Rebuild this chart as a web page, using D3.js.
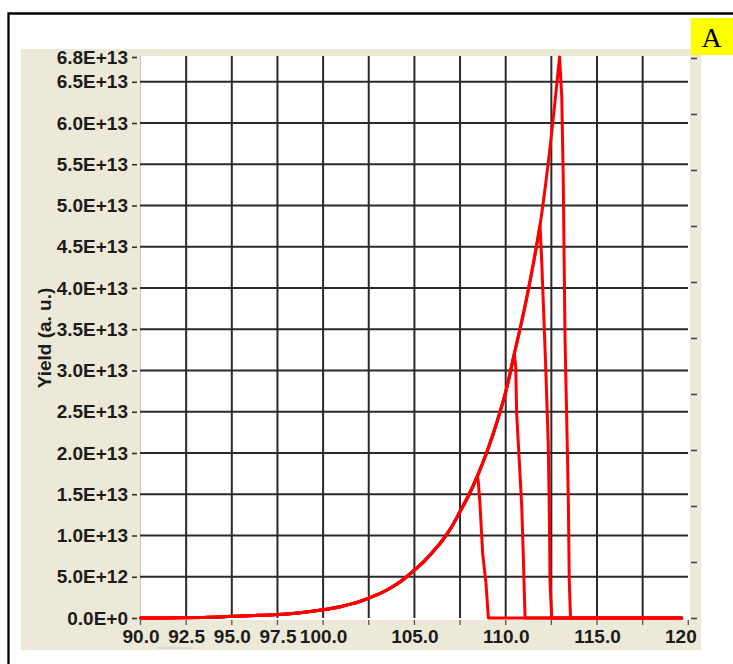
<!DOCTYPE html>
<html>
<head>
<meta charset="utf-8">
<script src="https://cdn.jsdelivr.net/npm/d3@7"></script>
<style>
  html, body { margin: 0; padding: 0; background: #ffffff; }
  svg { display: block; }
  .tick text { font-family: "Liberation Sans", Arial, sans-serif; font-weight: bold; font-size: 19px; fill: #1c1c1c; }
</style>
</head>
<body>
<svg id="chart" width="733" height="664"></svg>
<script>
// ---- Axis ticks and labels ----
const gridX = [90, 92.5, 95, 97.5, 100, 102.5, 105, 107.5, 110, 112.5, 115, 117.5, 120];
const labelX = [90, 92.5, 95, 97.5, 100, 105, 110, 115, 120];
const gridY = [0, 5e12, 1e13, 1.5e13, 2e13, 2.5e13, 3e13, 3.5e13, 4e13, 4.5e13, 5e13, 5.5e13, 6e13, 6.5e13, 6.8e13];
const labelY = ["0.0E+0", "5.0E+12", "1.0E+13", "1.5E+13", "2.0E+13", "2.5E+13", "3.0E+13",
                "3.5E+13", "4.0E+13", "4.5E+13", "5.0E+13", "5.5E+13", "6.0E+13", "6.5E+13", "6.8E+13"];
const rightTicks = [0, 1, 2, 3, 4, 5, 6, 7, 8, 9, 10];

// ---- Yield curve (shared rising edge) ----
const riseX = [93.75, 95.0, 96.25, 97.5, 98.75, 100.0, 100.5, 101.0, 101.5, 102.0, 102.5, 103.0,
               103.5, 104.0, 104.5, 105.0, 105.5, 106.0, 106.5, 107.0, 107.5, 108.0, 108.45,
               109.0, 109.5, 110.0, 110.47, 111.0, 111.33, 111.88, 112.4, 112.95];
const riseY = [1e11, 2e11, 3e11, 4.3e11, 6.5e11, 1.0e12, 1.18e12, 1.4e12, 1.68e12, 2.0e12, 2.4e12, 2.85e12,
               3.4e12, 4.05e12, 4.85e12, 5.8e12, 6.8e12, 8.0e12, 9.3e12, 1.09e13, 1.29e13, 1.5e13, 1.72e13,
               2.03e13, 2.36e13, 2.74e13, 3.2e13, 3.72e13, 4.08e13, 4.76e13, 5.65e13, 6.8e13];

// ---- Cut-off energies of the four runs and their falling edges ----
const apexX = [108.45, 110.47, 111.88, 112.95];
const drop1X = [108.5, 108.59, 108.74, 108.92, 109.05];
const drop1Y = [1.65e13, 1.39e13, 7.8e12, 4.2e12, 0];
const drop2X = [110.55, 110.6, 110.74, 110.88, 110.96, 111.06];
const drop2Y = [3.05e13, 2.48e13, 1.92e13, 1.35e13, 7.8e12, 0];
const drop3X = [111.97, 112.06, 112.2, 112.33, 112.39, 112.43, 112.52];
const drop3Y = [4.34e13, 3.82e13, 2.99e13, 2.12e13, 1.27e13, 4.2e12, 0];
const drop4X = [113.07, 113.15, 113.25, 113.34, 113.43, 113.48, 113.55];
const drop4Y = [6.32e13, 5.35e13, 3.37e13, 2.44e13, 1.43e13, 4.6e12, 0];
const baseX = [90, 119.64];   // zero-yield baseline span

const svg = d3.select("#chart");

// outer frame
svg.append("path")
  .attr("d", "M8.5,664 V13.5 H733")
  .attr("fill", "none").attr("stroke", "#000").attr("stroke-width", 2.3);

// beige chart panel
svg.append("rect").attr("x", 21).attr("y", 49).attr("width", 680).attr("height", 601).attr("fill", "#ECE9D8");

// plot area
svg.append("rect").attr("x", 140).attr("y", 56).attr("width", 550).attr("height", 564).attr("fill", "#ffffff");
svg.append("line").attr("x1", 140.5).attr("x2", 140.5).attr("y1", 56).attr("y2", 620)
  .attr("stroke", "#c4c4c4").attr("stroke-width", 1);

const x = d3.scaleLinear().domain([90, 120]).range([140.5, 688.3]);
const y = d3.scaleLinear().domain([0, 6.8e13]).range([618, 57]);
const yR = d3.scaleLinear().domain([0, 10]).range([618, 58]);

// grid
const grid = svg.append("g").attr("stroke", "#2a2a2a").attr("stroke-width", 2);
grid.selectAll("line.v").data(gridX.filter(d => d > 90 && d < 120)).join("line")
  .attr("class", "v")
  .attr("x1", d => x(d)).attr("x2", d => x(d))
  .attr("y1", 56).attr("y2", 618);
grid.selectAll("line.h").data(gridY.filter(d => d > 0 && d < 6.8e13)).join("line")
  .attr("class", "h")
  .attr("x1", 140).attr("x2", 688)
  .attr("y1", d => y(d)).attr("y2", d => y(d));

// left axis
const yAxis = svg.append("g").attr("transform", "translate(140,0)")
  .call(d3.axisLeft(y).tickValues(gridY).tickFormat((d, i) => labelY[i]).tickSize(0).tickPadding(12));
yAxis.select(".domain").remove();
yAxis.selectAll(".tick").append("line")
  .attr("x1", -8).attr("x2", -3).attr("stroke", "#333").attr("stroke-width", 1.6);

// bottom axis (last label runs past the panel and is cut off)
svg.append("clipPath").attr("id", "panelClip")
  .append("rect").attr("x", 21).attr("y", 49).attr("width", 676).attr("height", 601);
const xAxis = svg.append("g").attr("clip-path", "url(#panelClip)")
  .append("g").attr("transform", "translate(0,620)")
  .call(d3.axisBottom(x).tickValues(labelX).tickFormat(d3.format(".1f")).tickSize(0).tickPadding(10));
xAxis.select(".domain").remove();
svg.append("g").selectAll("line").data(gridX).join("line")
  .attr("x1", d => x(d)).attr("x2", d => x(d))
  .attr("y1", 620).attr("y2", 625)
  .attr("stroke", "#555").attr("stroke-width", 1.3);

// right axis ticks
const rAxis = svg.append("g").attr("transform", "translate(691,0)")
  .call(d3.axisRight(yR).tickValues(rightTicks).tickFormat("").tickSize(6));
rAxis.select(".domain").remove();
rAxis.selectAll(".tick line").attr("stroke", "#444").attr("stroke-width", 1.6);

// y title
svg.append("text")
  .attr("transform", "translate(44,338) rotate(-90)")
  .attr("text-anchor", "middle").attr("dominant-baseline", "central")
  .attr("font-family", "'Liberation Sans', Arial, sans-serif")
  .attr("font-weight", "bold").attr("font-size", 19).attr("fill", "#1c1c1c")
  .text("Yield (a. u.)");

// small scroll marker under the axis
svg.append("line").attr("x1", 158).attr("x2", 193).attr("y1", 648).attr("y2", 648)
  .attr("stroke", "#c9c9c9").attr("stroke-width", 1.2);

// panel tag
svg.append("rect").attr("x", 691).attr("y", 18).attr("width", 42).attr("height", 37).attr("fill", "#FFFF00");
svg.append("text").attr("x", 711.5).attr("y", 46.5).attr("text-anchor", "middle")
  .attr("font-family", "'Liberation Serif', 'Times New Roman', serif")
  .attr("font-size", 28).attr("fill", "#000").text("A");

// build the four yield runs: smooth rising edge, straight falling edge
const drops = [[drop1X, drop1Y], [drop2X, drop2Y], [drop3X, drop3Y], [drop4X, drop4Y]];
const riseLine = d3.line().x(d => x(d[0])).y(d => y(d[1])).curve(d3.curveMonotoneX);
const dropLine = d3.line().x(d => x(d[0])).y(d => y(d[1]));
const runs = apexX.map((ax, k) => {
  const up = [[baseX[0], 0]];
  riseX.forEach((rx, i) => { if (rx <= ax) up.push([rx, riseY[i]]); });
  const down = [up[up.length - 1]];
  drops[k][0].forEach((dx, i) => down.push([dx, drops[k][1][i]]));
  down.push([baseX[1], 0]);
  return riseLine(up) + dropLine(down);
});

svg.append("g").selectAll("path").data(runs).join("path")
  .attr("d", d => d)
  .attr("fill", "none").attr("stroke", "#ff0000").attr("stroke-width", 3)
  .attr("stroke-linejoin", "round").attr("stroke-linecap", "round");
</script>
</body>
</html>
